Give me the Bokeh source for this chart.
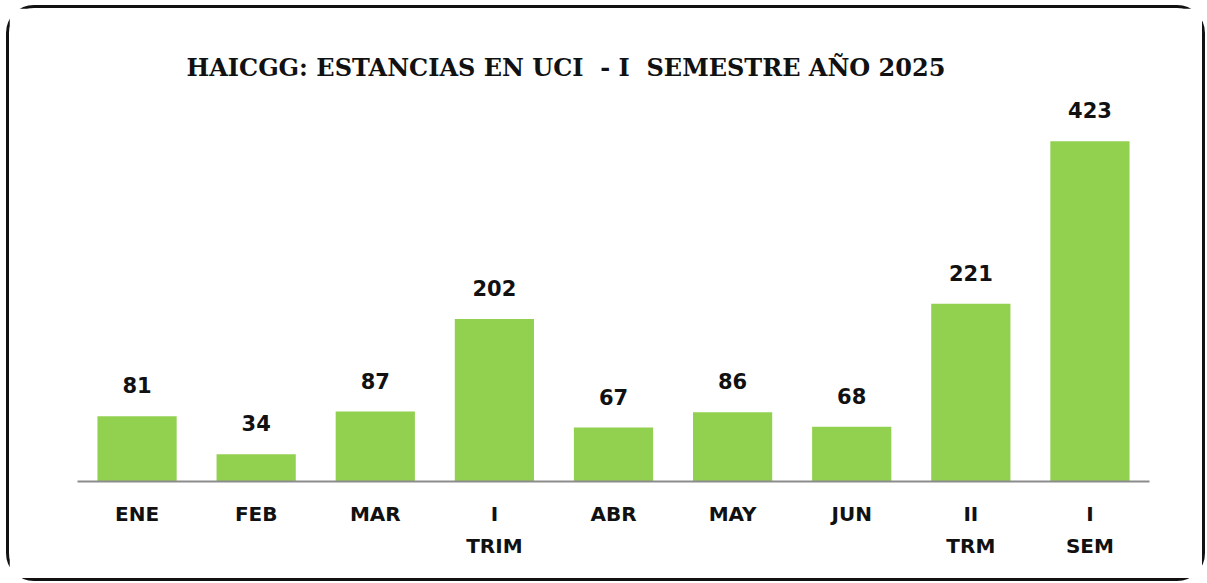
from bokeh.plotting import figure
from bokeh.models import ColumnDataSource, FactorRange, Range1d, Title
from bokeh.core.properties import value
from bokeh.embed import file_html
from bokeh.resources import INLINE

categories = ["ENE", "FEB", "MAR", "I\nTRIM", "ABR", "MAY", "JUN", "II\nTRM", "I\nSEM"]
values = [81, 34, 87, 202, 67, 86, 68, 221, 423]
labels = [str(v) for v in values]
title_text = "HAICGG: ESTANCIAS EN UCI \u00a0- I \u00a0SEMESTRE AÑO 2025"

src = ColumnDataSource(dict(cat=categories, val=values, lab=labels))

p = figure(
    width=1199, height=576,
    x_range=FactorRange(*categories, range_padding=0),
    y_range=Range1d(0, 486),
    output_backend="svg", toolbar_location=None,
    min_border_left=68, min_border_right=59,
    min_border_top=82, min_border_bottom=103,
)
p.styles = {"border": "3px solid #111111", "border-radius": "28px",
            "margin": "5px 0px 0px 6px"}
p.outline_line_color = None
p.background_fill_color = "white"
p.border_fill_color = "white"
p.xgrid.grid_line_color = None
p.ygrid.grid_line_color = None
p.yaxis.visible = False

t = Title(text=title_text, align="left", offset=109,
          text_font="DejaVu Serif", text_font_style="bold",
          text_font_size="24px", text_color="#111111")
if "standoff" in t.properties():
    t.standoff = 17
p.add_layout(t, "above")

p.vbar(x="cat", top="val", width=0.665, source=src,
       fill_color="#92D050", line_color=None)
p.text(x="cat", y="val", text="lab", source=src, y_offset=-31,
       text_align="center", text_baseline="alphabetic",
       text_font=value("DejaVu Sans"), text_font_style="bold",
       text_font_size="21px", text_color="#111111")

ax = p.xaxis[0]
ax.axis_line_color = "#8c8c8c"
ax.axis_line_width = 2
ax.major_tick_line_color = None
ax.minor_tick_line_color = None
ax.major_label_standoff = 14
ax.major_label_text_font = "DejaVu Sans"
ax.major_label_text_font_style = "bold"
ax.major_label_text_font_size = "20px"
ax.major_label_text_color = "#111111"
ax.major_label_text_line_height = 1.35

open("out.html", "w").write(file_html(p, INLINE))
